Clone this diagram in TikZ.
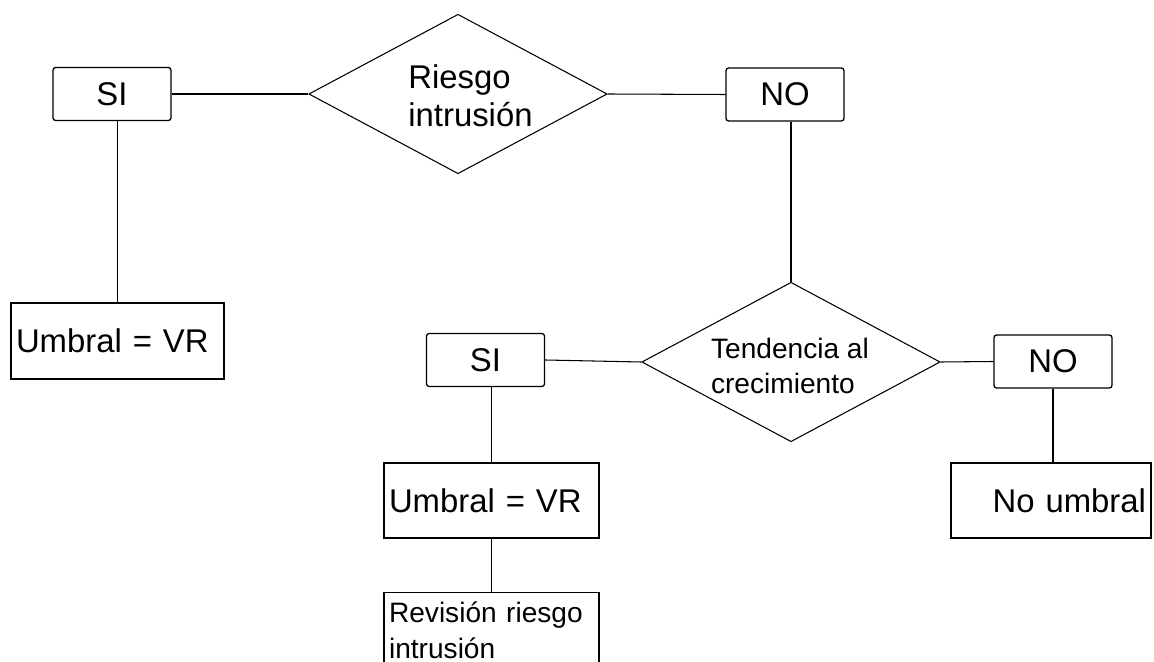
\documentclass[tikz,border=0pt]{standalone}
\usepackage{fontspec}
\setmainfont{Liberation Sans}
\usetikzlibrary{shapes.geometric}

\newcommand{\bigtxt}{\fontsize{18.7}{21.5}\selectfont}
\newcommand{\smalltxt}{\fontsize{16}{19.6}\selectfont}

\begin{document}
\begin{tikzpicture}[
    x=0.02cm, y=-0.02cm,
    answer/.style={rectangle, rounded corners=1.5pt, draw, line width=0.75pt,
                   minimum width=2.36cm, minimum height=1.06cm, inner sep=0pt, font=\bigtxt},
    decision/.style={diamond, draw, line width=0.6pt, aspect=1.88, inner sep=0pt,
                     minimum width=5.97cm, minimum height=3.19cm},
    result/.style={rectangle, draw, line width=0.75pt, align=left, inner xsep=0.1cm},
    link/.style={line width=0.6pt}
]
    \useasboundingbox (0,0) rectangle (1154,662);
    \clip (0,0) rectangle (1154,662);

    % first question
    \node[answer] (si1) at (112,94) {SI};
    \node[decision, label={[name=riesgotxt, align=left, font=\bigtxt, xshift=0.25cm, yshift=-0.04cm]center:Riesgo\\intrusión}] (riesgo) at (458,94) {};
    \node[answer] (no1) at (785,94.5) {NO};
    \node[result, text width=4.06cm, minimum height=1.52cm, font=\bigtxt] (umbral1) at (117.5,341) {Umbral = VR};

    % second question
    \node[decision, label={[name=tendenciatxt, align=left, font=\smalltxt, xshift=-0.02cm, yshift=-0.08cm]center:Tendencia al\\crecimiento}] (tendencia) at (791,362) {};
    \node[answer] (si2) at (485.5,360) {SI};
    \node[answer] (no2) at (1053,361.5) {NO};
    \node[result, text width=4.10cm, minimum height=1.50cm, font=\bigtxt] (umbral2) at (491.5,500.5) {Umbral = VR};
    \node[result, text width=3.80cm, minimum height=1.50cm, font=\bigtxt, align=right] (nou) at (1051,500.5) {No umbral};
    \node[result, text width=4.10cm, inner ysep=0.18cm, font=\fontsize{16}{20.4}\selectfont, anchor=north] (revision) at (491.5,592) {Revisión riesgo\\intrusión};

    \draw[link] (si1.east) -- (riesgo.west);
    \draw[link] (riesgo.east) -- (no1.west);
    \draw[link] (si1.south -| umbral1.north) -- (umbral1.north);
    \draw[link] (no1.south -| tendencia.north) -- (tendencia.north);
    \draw[link] (si2.east) -- (tendencia.west);
    \draw[link] (tendencia.east) -- (no2.west);
    \draw[link] (si2.south -| umbral2.north) -- (umbral2.north);
    \draw[link] (umbral2.south) -- (revision.north);
    \draw[link] (no2.south) -- (no2.south |- nou.north);
\end{tikzpicture}
\end{document}
